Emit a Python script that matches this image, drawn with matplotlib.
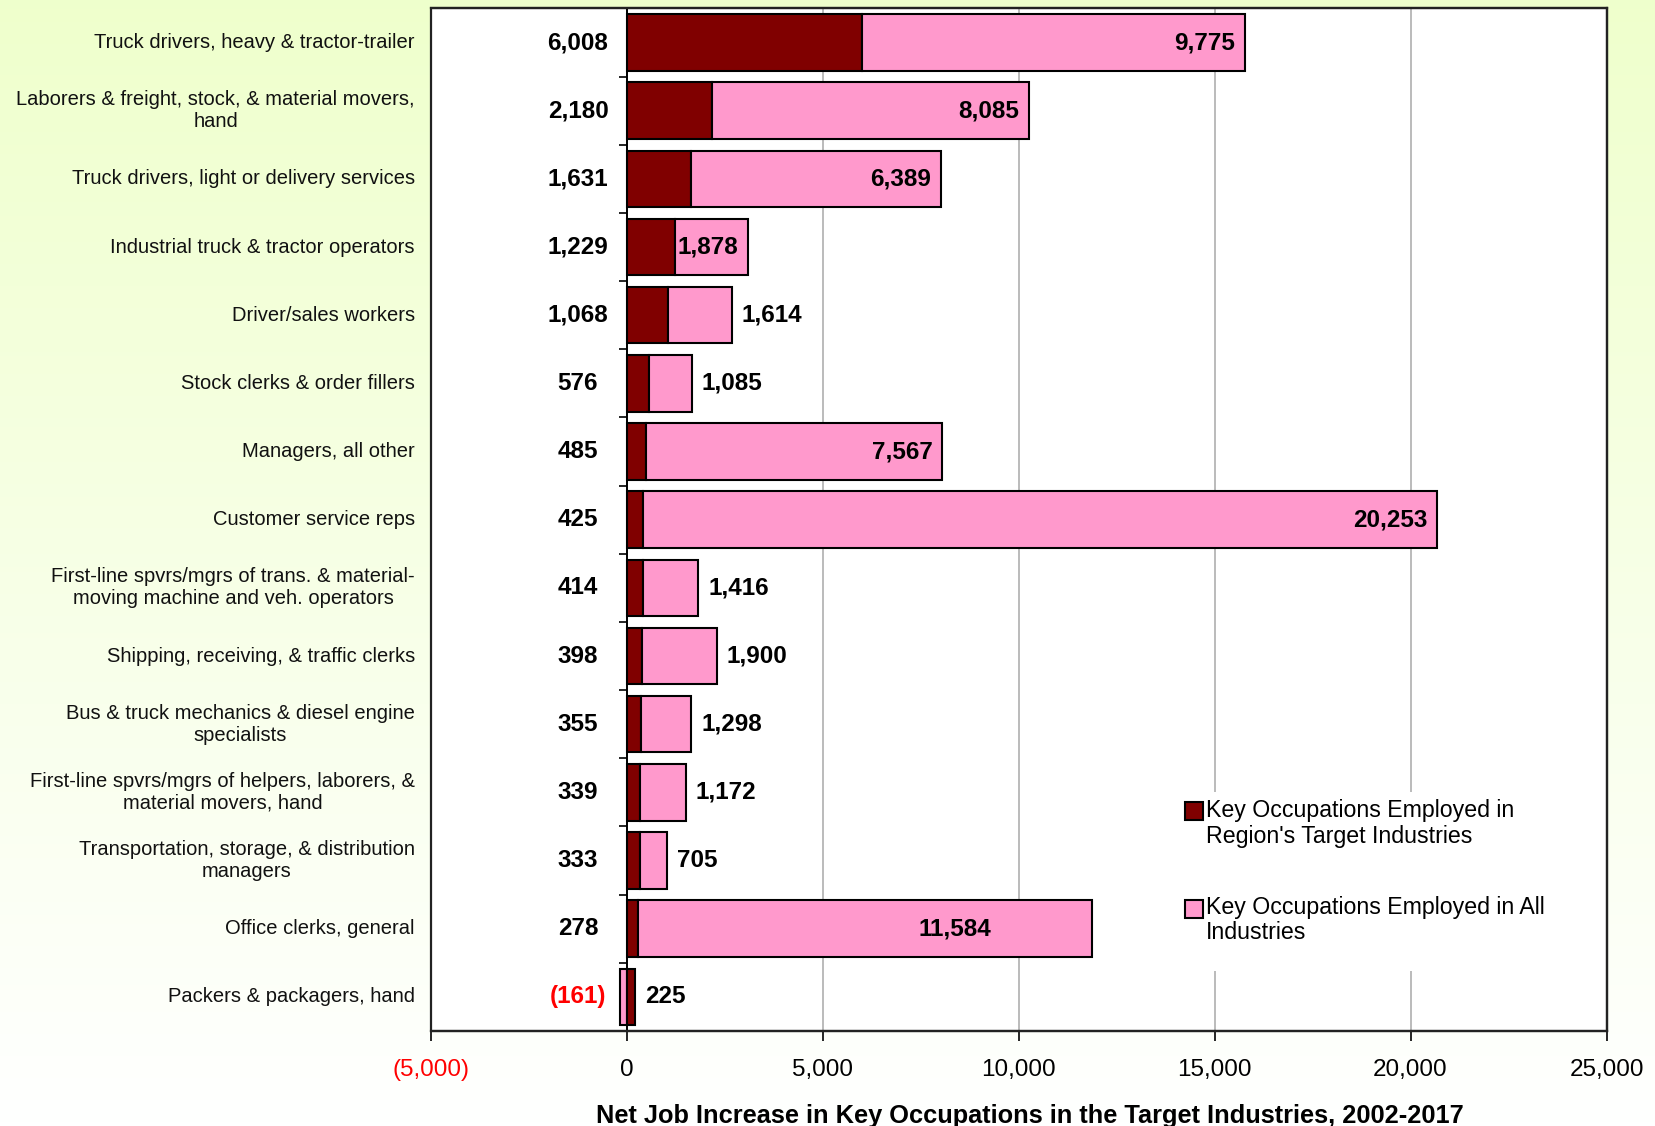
import numpy as np
import matplotlib
matplotlib.use("Agg")
import matplotlib.pyplot as plt
from matplotlib.patches import Rectangle
import matplotlib.transforms as mtransforms

plt.rcParams['font.family'] = ['Liberation Sans', 'DejaVu Sans']

# --- data ---
occupations = [
    "Truck drivers, heavy & tractor-trailer",
    "Laborers & freight, stock, & material movers,\nhand",
    "Truck drivers, light or delivery services",
    "Industrial truck & tractor operators",
    "Driver/sales workers",
    "Stock clerks & order fillers",
    "Managers, all other",
    "Customer service reps",
    "First-line spvrs/mgrs of trans. & material-\nmoving machine and veh. operators",
    "Shipping, receiving, & traffic clerks",
    "Bus & truck mechanics & diesel engine\nspecialists",
    "First-line spvrs/mgrs of helpers, laborers, &\nmaterial movers, hand",
    "Transportation, storage, & distribution\nmanagers",
    "Office clerks, general",
    "Packers & packagers, hand",
]
target_jobs = [6008, 2180, 1631, 1229, 1068, 576, 485, 425, 414, 398, 355, 339, 333, 278, -161]
all_jobs = [9775, 8085, 6389, 1878, 1614, 1085, 7567, 20253, 1416, 1900, 1298, 1172, 705, 11584, 225]
legend_labels = ["Key Occupations Employed in\nRegion's Target Industries",
                 "Key Occupations Employed in All\nIndustries"]

DARK = "#800000"
PINK = "#FF99CC"

def fmt(v):
    return f"({abs(v):,.0f})" if v < 0 else f"{v:,.0f}"

fig = plt.figure(figsize=(16.55, 11.26), dpi=100)

# background: vertical gradient light green -> white
bg = fig.add_axes([0, 0, 1, 1], zorder=-10)
t = np.linspace(0, 1, 256)[:, None]
top_c = np.array([0.937, 1.0, 0.80])
bot_c = np.array([1.0, 1.0, 1.0])
grad = top_c[None, None, :] * (1 - t[..., None]) + bot_c[None, None, :] * t[..., None]
bg.imshow(np.repeat(grad, 2, axis=1), aspect='auto', extent=[0, 1, 0, 1])
bg.axis('off')

ax = fig.add_axes([0.2602, 0.0844, 0.7105, 0.9081])
ax.set_facecolor("white")

n = len(occupations)
y = np.arange(n)
target = np.array(target_jobs)
allj = np.array(all_jobs)

# Excel drew the negative row with swapped fills
c_target = [PINK if v < 0 else DARK for v in target]
c_all = [DARK if v < 0 else PINK for v in target]

h = 0.83
ax.barh(y, target, height=h, color=c_target, edgecolor="black", linewidth=1.5, zorder=3)
left_all = np.clip(target, 0, None)
ax.barh(y, allj, left=left_all, height=h, color=c_all, edgecolor="black", linewidth=1.5, zorder=3)

ax.set_xlim(-5000, 25000)
ax.set_ylim(n - 0.5, -0.5)

# x ticks
xt = np.arange(-5000, 25001, 5000)
ax.set_xticks(xt, [fmt(v) for v in xt])
ax.tick_params(axis='x', direction='out', length=7, width=1.2, labelsize=17.5, pad=13, colors='black')
for lbl, v in zip(ax.get_xticklabels(), xt):
    lbl.set_color("red" if v < 0 else "black")
ax.xaxis.grid(True, color="#A8A8A8", linewidth=1.1, zorder=0)
ax.set_axisbelow(True)

# y axis sits at zero, ticks at category boundaries
ax.spines['left'].set_position(('data', 0))
ax.spines['left'].set_linewidth(1.4)
ax.set_yticks(np.arange(-0.5, n, 1.0), [""] * (n + 1))
ax.tick_params(axis='y', direction='out', length=6, width=1.2, colors='black')
for s in ['top', 'right', 'bottom']:
    ax.spines[s].set_linewidth(1.6)
    ax.spines[s].set_color("#222222")
ax.add_patch(Rectangle((0, 0), 1, 1, transform=ax.transAxes, fill=False,
                       edgecolor="#222222", linewidth=1.6, clip_on=False, zorder=5))

# category labels to the left of the plot area
trans = mtransforms.blended_transform_factory(ax.transAxes, ax.transData)
for yi, name in zip(y, occupations):
    ax.text(-0.0133, yi, name, transform=trans, ha='right', va='center',
            multialignment='center', fontsize=14.5, color='#111111')

# target value labels
for yi, v in zip(y, target):
    ax.text(-1240, yi, fmt(v), ha='center', va='center', fontsize=17.5, fontweight='bold',
            color='red' if v < 0 else 'black', zorder=6)

# all-industries labels: some inside bar end, some outside
inside_rows = {0, 1, 2, 3, 6, 7, 13}
inside_shift = {13: 2300}
for yi, v, l0 in zip(y, allj, left_all):
    end = l0 + v
    if yi in inside_rows:
        ax.text(end - 250 - inside_shift.get(yi, 0), yi, fmt(v), ha='right', va='center',
                fontsize=17.5, fontweight='bold', zorder=6)
    else:
        ax.text(end + 250, yi, fmt(v), ha='left', va='center',
                fontsize=17.5, fontweight='bold', zorder=6)

# legend drawn by hand: square sits beside the first text line, as in Excel
ax.add_patch(Rectangle((0.637, 0.0587), 0.323, 0.175, transform=ax.transAxes,
                       facecolor='white', edgecolor='none', zorder=4))
for (sq_y, txt_y), col, lab in zip([(0.2063, 0.2029), (0.1106, 0.1085)], [DARK, PINK], legend_labels):
    ax.add_patch(Rectangle((0.6416, sq_y), 0.0153, 0.0176, transform=ax.transAxes,
                           facecolor=col, edgecolor='black', linewidth=1.5, zorder=6))
    ax.text(0.6594, txt_y, lab, transform=ax.transAxes, ha='left', va='center',
            fontsize=16.7, linespacing=1.15, zorder=6)

ax.set_xlabel("Net Job Increase in Key Occupations in the Target Industries, 2002-2017",
              fontsize=18.3, fontweight='bold')
ax.xaxis.set_label_coords(0.51, -0.071)

fig.savefig("out.png", dpi=100)
